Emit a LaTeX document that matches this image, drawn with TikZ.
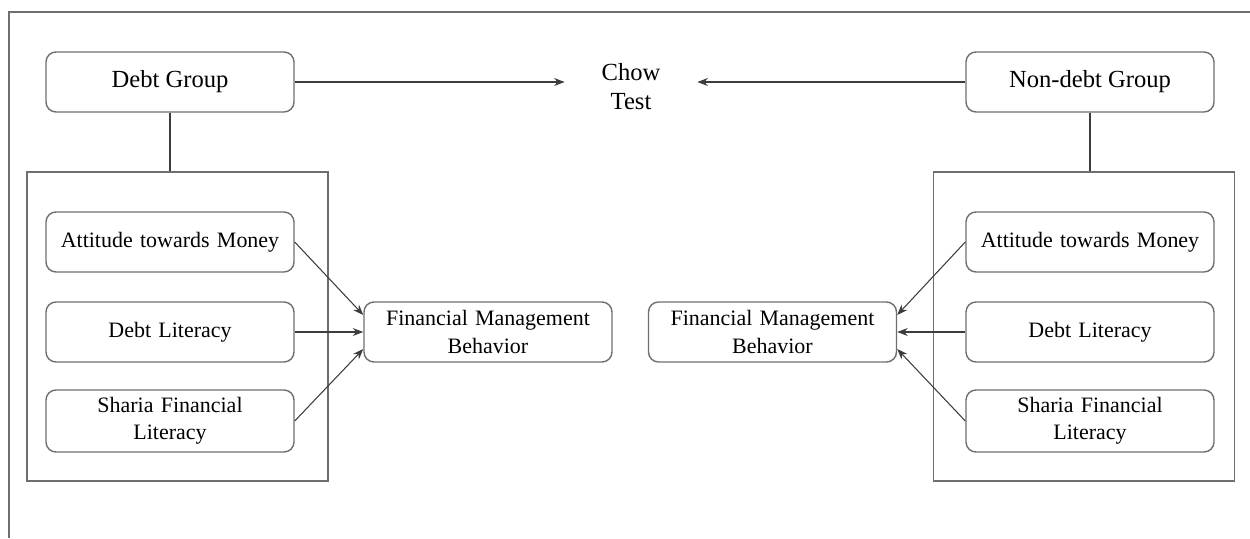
\documentclass[tikz,border=0pt]{standalone}
\usepackage{fontspec}
\setmainfont{Liberation Serif}
\usetikzlibrary{arrows.meta}
\definecolor{frame-grey}{HTML}{6E6E6E}
\definecolor{line-grey}{HTML}{3C3C3C}

\begin{document}
\begin{tikzpicture}[
    groupbox/.style={draw=frame-grey, line width=0.8pt, rounded corners=0.2cm,
      minimum width=4.96cm, minimum height=1.2cm, inner sep=0pt,
      font=\fontsize{14}{16.5}\selectfont},
    varbox/.style={draw=frame-grey, line width=0.8pt, rounded corners=0.2cm,
      minimum width=4.96cm, minimum height=1.2cm, inner sep=0pt,
      text width=4.7cm, align=center, font=\fontsize{12.5}{15.5}\selectfont},
    panel/.style={draw=frame-grey, line width=0.8pt, minimum width=6.02cm,
      minimum height=6.18cm, inner sep=0pt},
    link/.style={draw=line-grey, line width=0.6pt},
    arr/.style={link, -{Stealth[length=6pt, width=4.5pt]}}
  ]
    \useasboundingbox (0, 0) rectangle (25, -10.76);
    % outer frame (top and left only)
    \draw[frame-grey, line width=0.8pt] (0.18, -10.76) -- (0.18, -0.24) -- (25, -0.24);

    % groups and test
    \node[groupbox] (dg) at (3.4, -1.64) {Debt Group};
    \node[groupbox] (ndg) at (21.8, -1.64) {Non-debt Group};
    \node[minimum width=2.64cm, inner sep=0pt, align=center,
      font=\fontsize{14}{16.5}\selectfont] (chow) at (12.62, -1.74) {Chow\\Test};

    % left panel
    \node[panel] (lpanel) at (3.55, -6.53) {};
    \node[varbox] (latt) at (3.4, -4.84) {Attitude towards Money};
    \node[varbox] (ldebt) at (3.4, -6.64) {Debt Literacy};
    \node[varbox, minimum height=1.24cm] (lsharia) at (3.4, -8.42) {Sharia Financial\\Literacy};
    \node[varbox] (lfmb) at (9.76, -6.64) {Financial Management\\Behavior};

    % right panel
    \node[panel] (rpanel) at (21.68, -6.53) {};
    \node[varbox] (ratt) at (21.8, -4.84) {Attitude towards Money};
    \node[varbox] (rdebt) at (21.8, -6.64) {Debt Literacy};
    \node[varbox, minimum height=1.24cm] (rsharia) at (21.8, -8.42) {Sharia Financial\\Literacy};
    \node[varbox] (rfmb) at (15.45, -6.64) {Financial Management\\Behavior};

    % connectors
    \draw[arr] (dg.east) -- (dg.east -| chow.west);
    \draw[arr] (ndg.west) -- (ndg.west -| chow.east);
    \draw[link] (dg.south) -- (dg.south |- lpanel.north);
    \draw[link] (ndg.south) -- (ndg.south |- rpanel.north);

    \draw[arr] (latt.east) -- ([yshift=0.34cm]lfmb.west);
    \draw[arr] (ldebt.east) -- (lfmb.west);
    \draw[arr] (lsharia.east) -- ([yshift=-0.34cm]lfmb.west);

    \draw[arr] (ratt.west) -- ([yshift=0.34cm]rfmb.east);
    \draw[arr] (rdebt.west) -- (rfmb.east);
    \draw[arr] (rsharia.west) -- ([yshift=-0.34cm]rfmb.east);
  \end{tikzpicture}
\end{document}
